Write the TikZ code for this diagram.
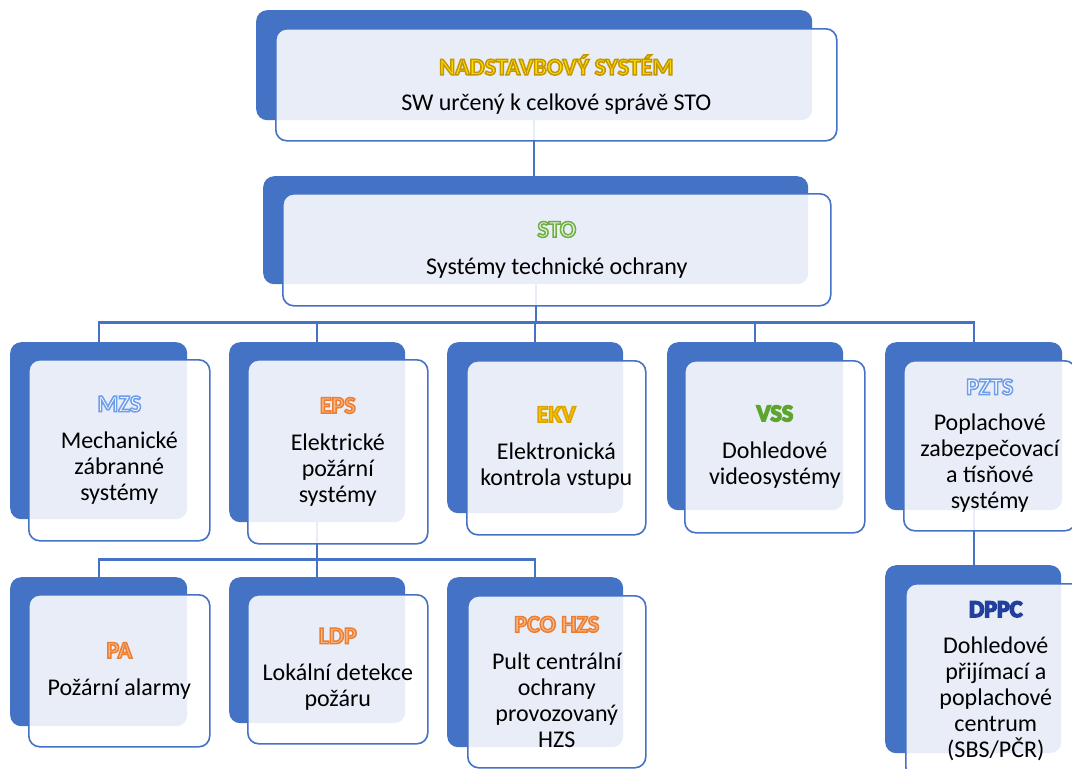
\documentclass[tikz,border=0pt]{standalone}
\usepackage{fontspec}
\setmainfont{Carlito}
\usetikzlibrary{positioning}

\definecolor{stoblue}{HTML}{4472C4}
\definecolor{goldfill}{HTML}{FFDD00}
\definecolor{ekvfill}{HTML}{FFC400}
\definecolor{greenfill}{HTML}{E6F2DC}
\definecolor{vssgreen}{HTML}{5EA531}
\definecolor{orangefill}{HTML}{F7B98A}
\definecolor{navy}{HTML}{203F9E}

\newcommand\body{\fontsize{24}{26}\selectfont}
% outlined title: stroke colour (r g b), fill colour, text
\newcommand\ttl[3]{{\fontsize{24}{26}\selectfont\bfseries\color{#2}%
    \special{pdf:code 2 Tr 1.5 w #1 RG}#3\special{pdf:code 0 Tr}}}

\begin{document}
\begin{tikzpicture}[x=1pt, y=-1pt,
    back/.style={fill=stoblue, rounded corners=11pt, inner sep=0pt, anchor=north west},
    front/.style={draw=stoblue, line width=1.6pt, fill=white, fill opacity=0.88,
                  text opacity=1, rounded corners=11pt, inner sep=0pt,
                  anchor=north west, align=center, font=\body},
    link/.style={draw=stoblue, line width=2.2pt}]
    \useasboundingbox (0,0) rectangle (1072,769);
    \clip (0,0) rectangle (1072,769);

    % back shapes
    \node[back, minimum width=556, minimum height=110] (nadb) at (256,10) {};
    \node[back, minimum width=545, minimum height=108] (stob) at (263,176) {};
    \node[back, minimum width=177, minimum height=177] (mzsb) at (10,342) {};
    \node[back, minimum width=176, minimum height=180] (epsb) at (229,342) {};
    \node[back, minimum width=176, minimum height=171] (ekvb) at (447,342) {};
    \node[back, minimum width=176, minimum height=168] (vssb) at (667,342) {};
    \node[back, minimum width=177, minimum height=168] (pztsb) at (885,342) {};
    \node[back, minimum width=177, minimum height=149] (pab) at (10,577) {};
    \node[back, minimum width=176, minimum height=146] (ldpb) at (229,577) {};
    \node[back, minimum width=176, minimum height=170] (pcob) at (447,577) {};
    \node[back, minimum width=176, minimum height=188] (dppcb) at (885,565) {};

    % connectors
    \draw[link] (nadb.south) -- (nadb.south |- stob.north);
    \foreach \c in {mzsb,epsb,ekvb,vssb,pztsb}
        \draw[link] (stob.south) -- ++(0,38) -| (\c.north);
    \foreach \c in {pab,ldpb,pcob}
        \draw[link] (epsb.south) -- ++(0,37) -| (\c.north);
    \draw[link] (pztsb.south) -- (pztsb.south |- dppcb.north);

    % text boxes
    \node[front, minimum width=561, minimum height=112] (nad) at (275,28)
        {\ttl{0.77 0.59 0}{goldfill}{NADSTAVBOVÝ SYSTÉM}\\[10pt]SW určený k celkové správě STO};
    \node[front, minimum width=548, minimum height=112] (sto) at (282,193)
        {\ttl{0.44 0.68 0.28}{greenfill}{STO}\\[11pt]Systémy technické ochrany};
    \node[front, minimum width=181, minimum height=181] (mzs) at (28,359)
        {\ttl{0.43 0.62 0.92}{white}{MZS}\\[11pt]Mechanické\\zábranné\\systémy};
    \node[front, minimum width=180, minimum height=184] (eps) at (247,359)
        {\ttl{0.93 0.49 0.19}{orangefill}{EPS}\\[11pt]Elektrické\\požární\\systémy};
    \node[front, minimum width=179, minimum height=174] (ekv) at (466,360)
        {\ttl{0.85 0.64 0}{ekvfill}{EKV}\\[11pt]Elektronická\\kontrola vstupu};
    \node[front, minimum width=180, minimum height=172] (vss) at (684,360)
        {\ttl{0.37 0.65 0.19}{vssgreen}{VSS}\\[11pt]Dohledové\\videosystémy};
    \node[front, minimum width=172, minimum height=170] (pzts) at (903,360)
        {\ttl{0.43 0.62 0.92}{white}{PZTS}\\[10pt]Poplachové\\zabezpečovací\\a tísňové\\systémy};
    \node[front, minimum width=181, minimum height=152] (pa) at (28,594)
        {\ttl{0.93 0.49 0.19}{orangefill}{PA}\\[11pt]Požární alarmy};
    \node[front, minimum width=180, minimum height=149] (ldp) at (247,594)
        {\ttl{0.93 0.49 0.19}{orangefill}{LDP}\\[11pt]Lokální detekce\\požáru};
    \node[front, minimum width=178, minimum height=172] (pco) at (467,595)
        {\ttl{0.93 0.49 0.19}{orangefill}{PCO HZS}\\[11pt]Pult centrální\\ochrany\\provozovaný\\HZS};
    \node[front, minimum width=180, minimum height=194] (dppc) at (905,583)
        {\ttl{0.13 0.25 0.62}{navy}{DPPC}\\[10pt]Dohledové\\přijímací a\\poplachové\\centrum\\(SBS/PČR)};
\end{tikzpicture}
\end{document}
